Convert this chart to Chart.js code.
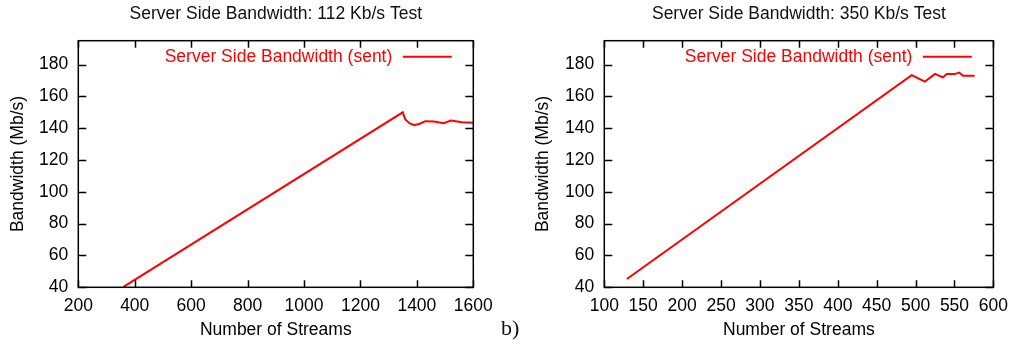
<!DOCTYPE html>
<html>
<head>
<meta charset="utf-8">
<script src="https://cdn.jsdelivr.net/npm/chart.js@4/dist/chart.umd.min.js"></script>
<style>
    body { margin: 0; background: #fff; width: 1016px; height: 346px; overflow: hidden; position: relative; }
    .panel { position: absolute; top: 0; width: 508px; height: 346px; }
    #sub { position: absolute; left: 501px; top: 315px; font: 22px "Liberation Serif", "DejaVu Serif", serif; color: #111; }
</style>
</head>
<body>
<div class="panel" style="left:0"><canvas id="chart112" width="508" height="346"></canvas></div>
<div class="panel" style="left:508px"><canvas id="chart350" width="508" height="346"></canvas></div>
<div id="sub">b)</div>
<script>
// --- data ---
const streams112 = [360, 1350, 1359, 1375, 1391, 1410, 1430, 1460, 1495, 1521, 1560, 1600];
const bw112      = [40.3, 150, 145.5, 143.0, 141.9, 142.8, 144.4, 144.2, 143.1, 144.8, 143.8, 143.4];

const streams350 = [129, 495, 512, 525, 535, 540, 550, 556, 561, 576];
const bw350      = [45.2, 173.4, 169.3, 174.1, 171.9, 174.0, 174.0, 175.0, 172.9, 172.9];

const xTicks112 = [200, 400, 600, 800, 1000, 1200, 1400, 1600];
const xTicks350 = [100, 150, 200, 250, 300, 350, 400, 450, 500, 550, 600];
const yTicks = [40, 60, 80, 100, 120, 140, 160, 180];

const seriesLabel = 'Server Side Bandwidth (sent)';
const FONT = '"Liberation Sans", Arial, sans-serif';
const FS = 17.5;
const RED = '#ff0000';

// gnuplot-like frame: title, border, inward ticks on all sides, legend inside top right
const framePlugin = {
    id: 'frame',
    afterDraw(chart) {
        const c = chart.ctx;
        const a = chart.chartArea;
        const xs = chart.scales.x, ys = chart.scales.y;
        c.save();

        c.font = FS + 'px ' + FONT;
        c.fillStyle = '#111';
        c.textAlign = 'center';
        c.textBaseline = 'middle';
        c.fillText(chart.options.plugins.frame.title, (a.left + a.right) / 2, 14);

        c.strokeStyle = '#000';
        c.lineWidth = 1.5;
        c.beginPath();
        xs.ticks.forEach(t => {
            const px = Math.round(xs.getPixelForValue(t.value)) + 0.5;
            c.moveTo(px, a.bottom); c.lineTo(px, a.bottom - 7);
            c.moveTo(px, a.top); c.lineTo(px, a.top + 7);
        });
        ys.ticks.forEach(t => {
            const py = Math.round(ys.getPixelForValue(t.value)) + 0.5;
            c.moveTo(a.left, py); c.lineTo(a.left + 8, py);
            c.moveTo(a.right, py); c.lineTo(a.right - 8, py);
        });
        c.stroke();
        c.strokeRect(a.left, a.top, a.right - a.left, a.bottom - a.top);

        // legend
        const ly = a.top + 16;
        c.fillStyle = RED;
        c.textAlign = 'right';
        c.fillText(seriesLabel, a.right - 81, ly);
        c.strokeStyle = RED;
        c.lineWidth = 2;
        c.beginPath();
        c.moveTo(a.right - 70.5, ly);
        c.lineTo(a.right - 21.5, ly);
        c.stroke();
        c.restore();
    }
};

function makeChart(id, title, xs, ys, xTicks, xMin, xMax, yAxisW, padRight, yTitlePad) {
    const el = document.getElementById(id);
    return new Chart(el, {
        type: 'line',
        data: {
            datasets: [{
                label: seriesLabel,
                data: xs.map((x, i) => ({ x: x, y: ys[i] })),
                borderColor: RED,
                borderWidth: 2,
                pointRadius: 0,
                tension: 0,
                fill: false
            }]
        },
        options: {
            responsive: false,
            animation: false,
            layout: { padding: { left: 0, top: 40.7, right: padRight, bottom: 0 } },
            plugins: {
                legend: { display: false },
                tooltip: { enabled: false },
                title: { display: false },
                frame: { title: title }
            },
            scales: {
                x: {
                    type: 'linear',
                    min: xMin, max: xMax,
                    afterBuildTicks: s => { s.ticks = xTicks.map(v => ({ value: v })); },
                    afterFit: s => { s.height = 58.7; },
                    grid: { display: false, drawTicks: false },
                    border: { display: false },
                    ticks: { color: '#000', padding: 8, maxRotation: 0, autoSkip: false, callback: v => String(v), font: { family: FONT, size: FS } },
                    title: { display: true, text: 'Number of Streams', color: '#000', padding: { top: 0, bottom: 5 }, font: { family: FONT, size: FS } }
                },
                y: {
                    min: 40, max: 195,
                    afterBuildTicks: s => { s.ticks = yTicks.map(v => ({ value: v })); },
                    afterFit: s => { s.width = yAxisW; },
                    grid: { display: false, drawTicks: false },
                    border: { display: false },
                    ticks: { color: '#000', padding: 10, callback: v => String(v), font: { family: FONT, size: FS } },
                    title: { display: true, text: 'Bandwidth (Mb/s)', color: '#000', padding: { top: yTitlePad, bottom: 0 }, font: { family: FONT, size: FS } }
                }
            }
        },
        plugins: [framePlugin]
    });
}

makeChart('chart112', 'Server Side Bandwidth: 112 Kb/s Test', streams112, bw112, xTicks112, 200, 1600, 78.3, 34.7, 7.5);
makeChart('chart350', 'Server Side Bandwidth: 350 Kb/s Test', streams350, bw350, xTicks350, 100, 600, 96.3, 17, 24.5);
</script>
</body>
</html>
